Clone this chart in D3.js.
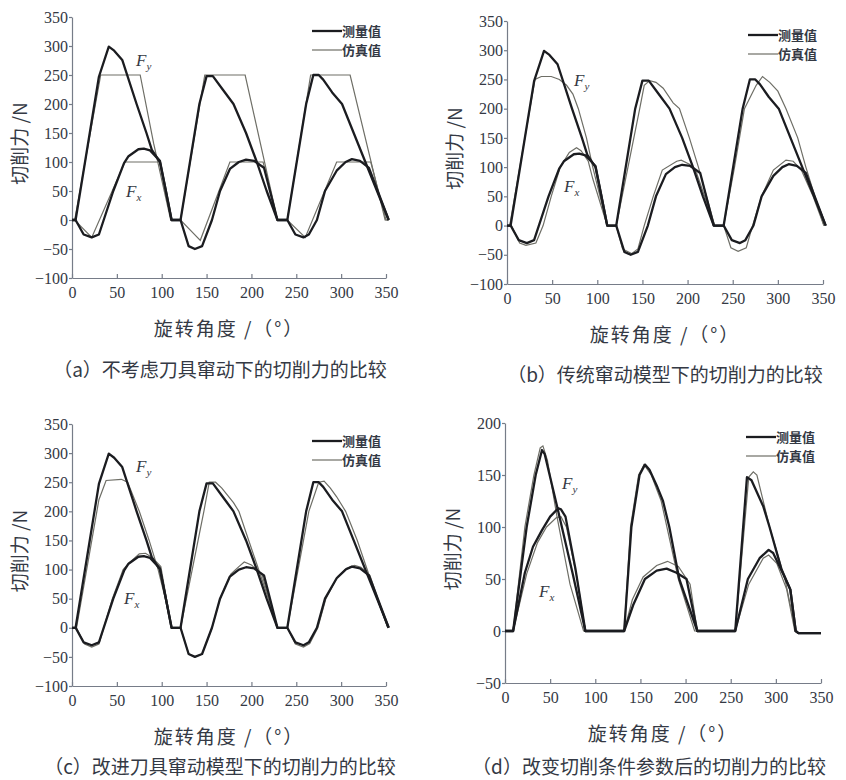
<!DOCTYPE html>
<html lang="zh">
<head>
<meta charset="utf-8">
<title>切削力的比较</title>
<script src="https://d3js.org/d3.v7.min.js"></script>
<style>
  body { margin: 0; background: #fff; }
  svg text { fill: #343944; }
</style>
</head>
<body>
<script>
// angle ticks (deg)
var xTicks = [0, 50, 100, 150, 200, 250, 300, 350];
var yTicksA = [-100, -50, 0, 50, 100, 150, 200, 250, 300, 350];
var yTicksD = [-50, 0, 50, 100, 150, 200];

// measured values, same in (a) (b) (c): [angle, N]
var measFy = [[0,0],[4,0],[30,247],[41,299],[47,292],[56,276],[72,200],[83,150],[89,121],[98,100],[104,55],[111,0],
  [121,0],[142,200],[150,248],[157,248],[168,225],[180,200],[194,150],[206,100],[217,50],[229,0],
  [240,0],[261,200],[269,250],[275,250],[280,242],[290,220],[301,200],[314,150],[327,100],[340,50],[353,0]];
var measFx = [[0,0],[4,0],[13,-25],[22,-30],[30,-25],[46,50],[58,98],[63,110],[74,122],[80,123],[87,120],[98,102],[111,0],
  [121,0],[130,-45],[137,-50],[145,-45],[156,0],[165,50],[176,88],[186,100],[194,104],[203,102],[214,90],[229,0],
  [240,0],[249,-25],[258,-30],[264,-25],[273,0],[282,50],[295,85],[305,100],[312,105],[321,102],[331,90],[353,0]];

// (a) simulation without tool runout
var simFyA = [[0,0],[3,0],[32,250],[76,250],[91,132],[110,0],[121,0],[148,250],[193,250],[229,0],[240,0],[266,250],[310,250],[349,0],[353,0]];
var simFxA = [[0,0],[3,0],[22,-30],[59,100],[98,100],[111,0],[121,0],[143,-35],[176,100],[213,100],[229,0],
  [240,0],[260,-30],[295,100],[333,100],[350,0],[353,0]];

// (b) traditional runout model
var simFyB = [[0,0],[3,0],[31,250],[38,255],[49,255],[58,250],[66,240],[73,225],[79,200],[88,150],[95,100],[103,50],[111,0],
  [121,0],[147,200],[152,240],[158,248],[165,245],[173,235],[184,210],[191,200],[202,150],[212,100],[221,50],[230,0],
  [240,0],[252,100],[263,200],[276,240],[283,255],[291,245],[300,230],[309,200],[322,150],[331,100],[341,50],[351,0]];
var simFxB = [[0,0],[5,0],[14,-30],[21,-34],[32,-30],[40,0],[49,50],[59,100],[69,125],[77,133],[82,128],[90,110],[95,80],[111,0],
  [121,0],[128,-40],[138,-48],[145,-40],[152,0],[162,50],[172,95],[188,110],[193,112],[202,105],[210,90],[230,0],
  [240,0],[248,-38],[256,-44],[265,-38],[272,0],[282,50],[295,95],[309,112],[317,110],[326,95],[339,50],[351,0]];

// (c) improved runout model
var simFyC = [[0,0],[5,0],[30,220],[38,253],[55,255],[62,250],[75,200],[86,150],[96,100],[104,50],[111,0],
  [121,0],[147,200],[153,250],[160,250],[167,240],[180,215],[186,200],[197,150],[208,100],[219,50],[229,0],
  [240,0],[264,200],[275,250],[281,252],[288,240],[295,225],[305,200],[318,150],[329,100],[340,50],[352,0]];
var simFxC = [[0,0],[5,0],[14,-28],[22,-33],[30,-28],[45,50],[57,100],[64,112],[75,127],[82,128],[90,120],[99,105],[111,0],
  [121,0],[130,-45],[137,-50],[145,-45],[156,0],[165,50],[177,92],[186,105],[192,113],[200,108],[212,90],[229,0],
  [240,0],[249,-28],[258,-33],[265,-27],[274,0],[283,50],[296,88],[306,102],[315,107],[322,104],[332,90],[352,0]];

// (d) changed cutting parameters
var measFyD = [[0,0],[9,0],[24,100],[34,150],[41,174],[44,170],[59,115],[75,55],[89,0],
  [132,0],[140,100],[149,150],[155,160],[160,155],[168,140],[175,125],[182,100],[193,50],[213,0],
  [255,0],[268,148],[273,145],[286,120],[293,100],[306,60],[316,40],[322,0],[325,-2],[350,-2]];
var measFxD = [[0,0],[9,0],[22,56],[31,81],[41,97],[50,110],[59,118],[62,117],[67,110],[78,60],[89,0],
  [132,0],[142,25],[155,50],[168,58],[179,60],[190,56],[201,50],[213,0],
  [255,0],[269,50],[282,70],[292,78],[297,75],[308,55],[316,40],[322,0],[325,-2],[350,-2]];
var simFyD = [[0,0],[9,0],[22,100],[32,150],[39,176],[42,178],[47,164],[58,108],[72,45],[87,0],
  [132,0],[139,100],[148,150],[154,160],[162,150],[173,125],[192,50],[210,0],
  [255,0],[270,148],[275,153],[279,150],[293,100],[310,50],[322,0],[325,-2],[350,-2]];
var simFxD = [[0,0],[9,0],[24,55],[36,85],[46,100],[57,109],[62,110],[68,100],[80,50],[89,0],
  [132,0],[141,30],[153,52],[168,63],[180,67],[192,62],[205,45],[213,0],
  [255,0],[270,45],[286,70],[292,73],[301,65],[312,40],[321,0],[325,-2],[350,-2]];

var captions = ["（a）不考虑刀具窜动下的切削力的比较", "（b）传统窜动模型下的切削力的比较",
  "（c）改进刀具窜动模型下的切削力的比较", "（d）改变切削条件参数后的切削力的比较"];
var legendNames = ["测量值", "仿真值"];

var panels = [
  {x0: 72, x1: 386, y0: 17, y1: 278, yDom: [-100, 350], yTicks: yTicksA, mFy: measFy, mFx: measFx, sFy: simFyA, sFx: simFxA,
   cap: captions[0], capX: 220, capY: 370, fy: [136, 66], fx: [126, 197], leg: [312, 31]},
  {x0: 507, x1: 823, y0: 21, y1: 284, yDom: [-100, 350], yTicks: yTicksA, mFy: measFy, mFx: measFx, sFy: simFyB, sFx: simFxB,
   cap: captions[1], capX: 665, capY: 375, fy: [574, 86], fx: [564, 192], leg: [748, 35]},
  {x0: 72, x1: 386, y0: 424, y1: 686, yDom: [-100, 350], yTicks: yTicksA, mFy: measFy, mFx: measFx, sFy: simFyC, sFx: simFxC,
   cap: captions[2], capX: 220, capY: 767, fy: [136, 472], fx: [124, 604], leg: [312, 441]},
  {x0: 505, x1: 821, y0: 423, y1: 683, yDom: [-50, 200], yTicks: yTicksD, mFy: measFyD, mFx: measFxD, sFy: simFyD, sFx: simFxD,
   cap: captions[3], capX: 649, capY: 767, fy: [562, 489], fx: [539, 597], leg: [746, 437]}
];

var svg = d3.select("body").append("svg").attr("width", 846).attr("height", 780);

var minus = function(d) { return d < 0 ? "\u2212" + Math.abs(d) : d; };

panels.forEach(function(p) {
  var x = d3.scaleLinear().domain([0, 350]).range([p.x0, p.x1]);
  var y = d3.scaleLinear().domain(p.yDom).range([p.y1, p.y0]);
  var g = svg.append("g");

  var ax = g.append("g").attr("transform", "translate(0," + p.y1 + ")")
    .call(d3.axisBottom(x).tickValues(xTicks).tickSize(-4).tickSizeOuter(0).tickPadding(9));
  var ay = g.append("g").attr("transform", "translate(" + p.x0 + ",0)")
    .call(d3.axisLeft(y).tickValues(p.yTicks).tickFormat(minus).tickSize(3).tickSizeOuter(0).tickPadding(1));
  [ax, ay].forEach(function(a) {
    a.selectAll("path, line").attr("stroke", "#767c88").attr("stroke-width", 1.2);
    a.selectAll("text").attr("font-family", "Liberation Serif").attr("font-size", 16).attr("fill", "#343944");
  });

  var line = d3.line().x(function(d) { return x(d[0]); }).y(function(d) { return y(d[1]); });
  [p.sFy, p.sFx].forEach(function(s) {
    g.append("path").datum(s).attr("d", line).attr("fill", "none").attr("stroke", "#6e6e66").attr("stroke-width", 1.2);
  });
  [p.mFy, p.mFx].forEach(function(s) {
    g.append("path").datum(s).attr("d", line).attr("fill", "none").attr("stroke", "#1b1c20")
      .attr("stroke-width", 2.3).attr("stroke-linejoin", "round");
  });

  // F labels
  [["y", p.fy], ["x", p.fx]].forEach(function(f) {
    var t = g.append("text").attr("x", f[1][0]).attr("y", f[1][1])
      .attr("font-family", "Liberation Serif").attr("font-style", "italic").attr("font-size", 17);
    t.append("tspan").text("F");
    t.append("tspan").attr("font-size", 11).attr("dy", 4).text(f[0]);
  });

  // legend
  legendNames.forEach(function(n, i) {
    var ly = p.leg[1] + i * 19;
    g.append("line").attr("x1", p.leg[0]).attr("x2", p.leg[0] + 30).attr("y1", ly).attr("y2", ly)
      .attr("stroke", i ? "#6e6e66" : "#1b1c20").attr("stroke-width", i ? 1.2 : 2.3);
    g.append("text").attr("x", p.leg[0] + 30).attr("y", ly + 5).attr("font-family", "Noto Sans CJK SC")
      .attr("font-weight", 700).attr("font-size", 13).text(n);
  });

  // axis titles
  var cx = (p.x0 + p.x1) / 2;
  g.append("text").attr("x", cx).attr("y", p.y1 + 58).attr("text-anchor", "middle")
    .attr("font-family", "Noto Sans CJK SC").attr("font-size", 19).attr("letter-spacing", 2).text("旋转角度 /（°）");
  g.append("text").attr("transform", "translate(" + (p.x0 - 54) + "," + ((p.y0 + p.y1) / 2 - 4) + ") rotate(-90)")
    .attr("text-anchor", "middle").attr("dominant-baseline", "central")
    .attr("font-family", "Noto Sans CJK SC").attr("font-size", 19).text("切削力 /N");

  g.append("text").attr("x", p.capX).attr("y", p.capY + 7).attr("text-anchor", "middle")
    .attr("font-family", "Noto Sans CJK SC").attr("font-size", 19).text(p.cap);
});
</script>
</body>
</html>
